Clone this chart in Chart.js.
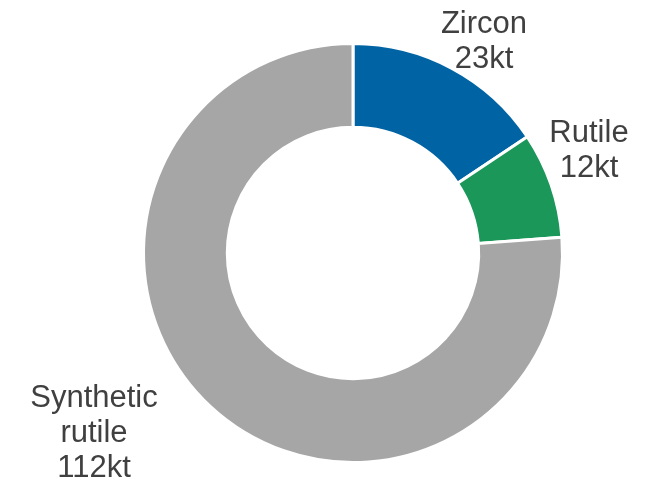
<!DOCTYPE html>
<html>
<head>
<meta charset="utf-8">
<script src="https://cdn.jsdelivr.net/npm/chart.js@4/dist/chart.umd.min.js"></script>
<style>
  html, body { margin: 0; padding: 0; background: #ffffff; }
  #wrap { width: 651px; height: 482px; position: relative; }
</style>
</head>
<body>
<div id="wrap"><canvas id="chart"></canvas></div>
<script>
// Datos del grafico
var categorias = ['Zircon', 'Rutile', 'Synthetic rutile'];
var valores = [23, 12, 112];
var etiquetas = [['Zircon', '23kt'], ['Rutile', '12kt'], ['Synthetic', 'rutile', '112kt']];
var colores = ['#0064a4', '#1a9759', '#a6a6a6'];

// Desplazamiento de cada etiqueta respecto al centro del anillo
var desplazamientos = [[131, -220], [236, -111], [-259, 154]];

// Plugin para pintar las etiquetas fuera del anillo
var etiquetasPlugin = {
    id: 'etiquetasFuera',
    afterDatasetsDraw: function (chart) {
        var ctx = chart.ctx;
        var meta = chart.getDatasetMeta(0);
        ctx.save();
        ctx.font = '31px "Liberation Sans", Arial, sans-serif';
        ctx.fillStyle = '#404040';
        ctx.textAlign = 'center';
        ctx.textBaseline = 'alphabetic';
        meta.data.forEach(function (arc, i) {
            var x = arc.x + desplazamientos[i][0];
            var y = arc.y + desplazamientos[i][1];
            etiquetas[i].forEach(function (linea, j) {
                ctx.fillText(linea, x, y + j * 35);
            });
        });
        ctx.restore();
    }
};

new Chart(document.getElementById('chart'), {
    type: 'doughnut',
    data: {
        labels: categorias,
        datasets: [{
            data: valores,
            backgroundColor: colores,
            borderColor: '#ffffff',
            borderWidth: 3
        }]
    },
    options: {
        responsive: true,
        maintainAspectRatio: false,
        animation: false,
        cutout: '60%',
        layout: { padding: { left: 142, right: 87, top: 42, bottom: 18 } },
        plugins: {
            legend: { display: false },
            tooltip: { enabled: false }
        }
    },
    plugins: [etiquetasPlugin]
});
</script>
</body>
</html>
